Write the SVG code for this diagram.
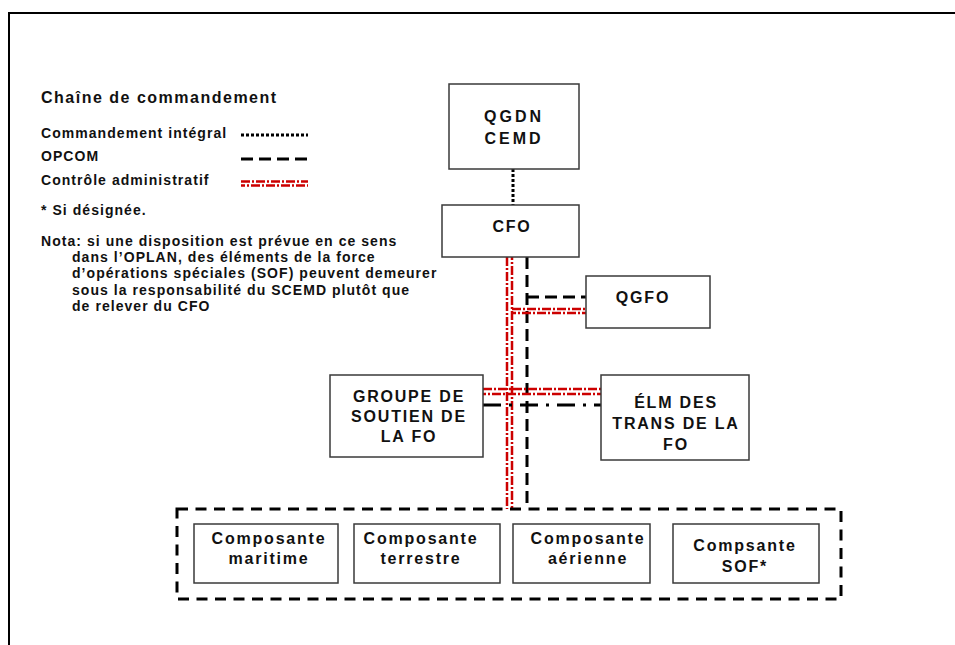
<svg xmlns="http://www.w3.org/2000/svg" width="955" height="645" viewBox="0 0 955 645">
<style>
text{font-family:"Liberation Sans",Arial,sans-serif;font-weight:bold;fill:#111}
.leg{font-size:14px;letter-spacing:1.05px}
.hd{font-size:16px;letter-spacing:1.5px}
.nl{font-size:16px;letter-spacing:1.8px;text-anchor:middle}
.box{fill:#fff;stroke:#3a3a3a;stroke-width:1.5}
.full{fill:none;stroke:#000;stroke-width:3;stroke-dasharray:3 2}
.opcom{fill:none;stroke:#000;stroke-width:3;stroke-dasharray:12 6}
.adm{fill:none;stroke:#cc0000;stroke-width:2.5;stroke-dasharray:9 2 2 2}
.dd{fill:none;stroke:#000;stroke-width:3;stroke-dasharray:18 8 3 8}
</style>
<rect width="955" height="645" fill="#fff"/>
<path d="M9 645V13H955" fill="none" stroke="#000" stroke-width="2"/>
<g id="legend">
<text class="hd" x="41" y="103">Chaîne de commandement</text>
<text class="leg" x="41" y="138">Commandement intégral</text>
<line class="full" x1="241" y1="135" x2="308" y2="135"/>
<text class="leg" x="41" y="161">OPCOM</text>
<line class="opcom" x1="241" y1="159" x2="308" y2="159"/>
<text class="leg" x="41" y="185">Contrôle administratif</text>
<line class="adm" x1="241" y1="181.5" x2="308" y2="181.5"/>
<line class="adm" x1="241" y1="185.5" x2="308" y2="185.5" stroke-dashoffset="5"/>
<text class="leg" x="41" y="215">* Si désignée.</text>
<text class="leg" x="41" y="246">Nota: si une disposition est prévue en ce sens</text>
<text class="leg" x="72" y="262">dans l’OPLAN, des éléments de la force</text>
<text class="leg" x="72" y="278">d’opérations spéciales (SOF) peuvent demeurer</text>
<text class="leg" x="72" y="295">sous la responsabilité du SCEMD plutôt que</text>
<text class="leg" x="72" y="311">de relever du CFO</text>
</g>
<g id="connectors">
<line class="full" x1="513" y1="169" x2="513" y2="205"/>
<line class="opcom" x1="527" y1="257" x2="527" y2="509"/>
<line class="opcom" x1="527" y1="297" x2="586" y2="297"/>
<line class="adm" x1="507" y1="257" x2="507" y2="509"/>
<line class="adm" x1="512" y1="257" x2="512" y2="509" stroke-dashoffset="6"/>
<line class="adm" x1="512" y1="309" x2="586" y2="309"/>
<line class="adm" x1="512" y1="313" x2="586" y2="313" stroke-dashoffset="5"/>
<line class="adm" x1="483" y1="389" x2="601" y2="389" stroke-dasharray="10 3"/>
<line class="adm" x1="483" y1="394" x2="601" y2="394" stroke-dasharray="10 3" stroke-dashoffset="6"/>
<line class="dd" x1="483" y1="405" x2="601" y2="405"/>
</g>
<g id="qgdn"><rect class="box" x="449" y="84" width="130" height="85"/>
<text class="nl" x="514" y="122" style="letter-spacing:3px">QGDN</text><text class="nl" x="514" y="144" style="letter-spacing:3px">CEMD</text></g>
<g id="cfo"><rect class="box" x="442" y="205" width="137" height="52"/>
<text class="nl" x="512" y="232">CFO</text></g>
<g id="qgfo"><rect class="box" x="586" y="276" width="124" height="52"/>
<text class="nl" x="643" y="303">QGFO</text></g>
<g id="groupe"><rect class="box" x="330" y="375" width="153" height="82"/>
<text class="nl" x="409" y="402">GROUPE DE</text><text class="nl" x="409" y="422">SOUTIEN DE</text><text class="nl" x="409" y="442">LA FO</text></g>
<g id="elm"><rect class="box" x="601" y="375" width="148" height="85"/>
<text class="nl" x="676" y="408">ÉLM DES</text><text class="nl" x="676" y="429">TRANS DE LA</text><text class="nl" x="676" y="450">FO</text></g>
<g id="composantes"><rect x="177" y="509" width="664" height="90" fill="none" stroke="#000" stroke-width="3" stroke-dasharray="11 7.5"/></g>
<g id="maritime"><rect class="box" x="194" y="524" width="144" height="59"/>
<text class="nl" x="269" y="544">Composante</text><text class="nl" x="269" y="564">maritime</text></g>
<g id="terrestre"><rect class="box" x="354" y="524" width="146" height="59"/>
<text class="nl" x="421" y="544">Composante</text><text class="nl" x="421" y="564">terrestre</text></g>
<g id="aerienne"><rect class="box" x="513" y="524" width="137" height="59"/>
<text class="nl" x="588" y="544">Composante</text><text class="nl" x="588" y="564">aérienne</text></g>
<g id="sof"><rect class="box" x="673" y="524" width="146" height="59"/>
<text class="nl" x="745" y="551">Compsante</text><text class="nl" x="745" y="572">SOF*</text></g>
</svg>
